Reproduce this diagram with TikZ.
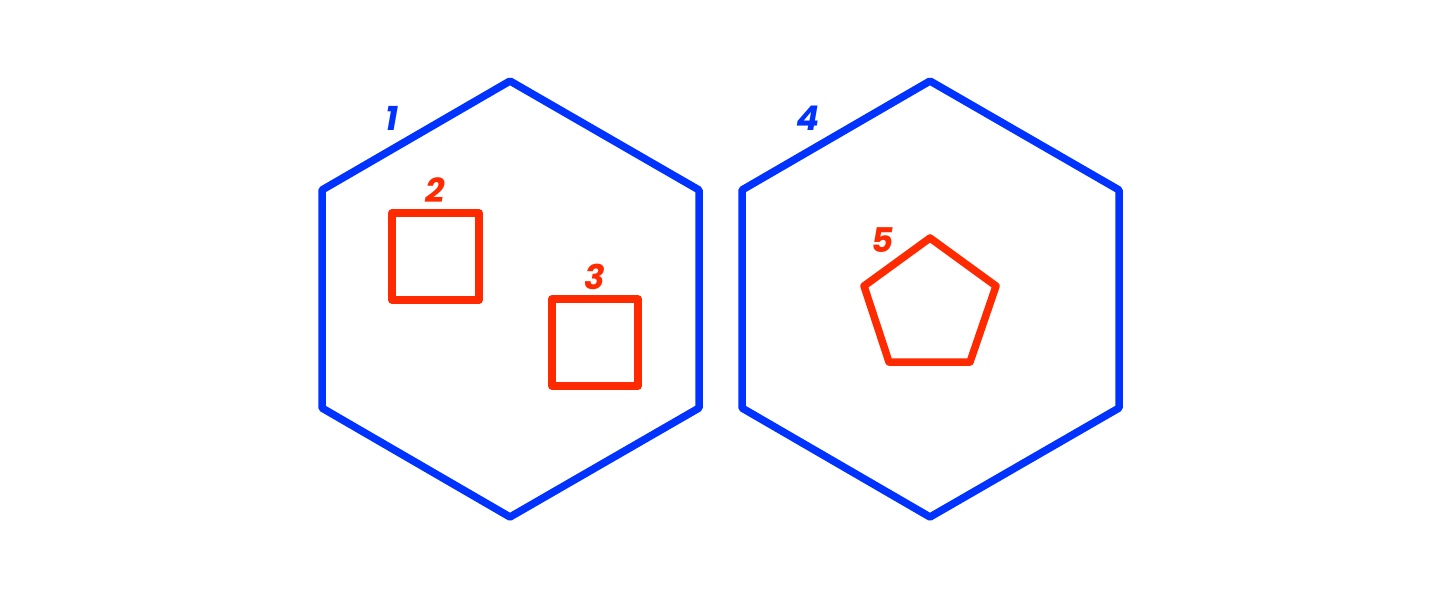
\documentclass[tikz,border=0pt]{standalone}
\usepackage{fontspec}
\setmainfont{Poppins}
\definecolor{hexblue}{HTML}{0033FF}
\definecolor{shred}{HTML}{FF2A00}
\begin{document}
\begin{tikzpicture}[x=1pt,y=-1pt,
  hexa/.style={draw=hexblue,line width=7.5pt,line join=round},
  redshape/.style={draw=shred,line width=7.5pt,line join=round},
  lbl/.style={font=\fontsize{34}{34}\selectfont\bfseries\itshape,inner sep=0pt},
  bluelbl/.style={lbl,text=hexblue},
  redlbl/.style={lbl,text=shred}]
\useasboundingbox (0,0) rectangle (1440,600);
\foreach \n/\cx in {A/510,B/930}{
  \draw[hexa] (\cx,81) -- (\cx+189,190) -- (\cx+189,408) -- (\cx,517) -- (\cx-188,408) -- (\cx-188,190) -- cycle;
}
\draw[redshape] (392,213) rectangle (479,300);
\draw[redshape] (552,299) rectangle (638,386);
\draw[redshape] (930,238) -- (996,286) -- (970,362) -- (889,362) -- (864,286) -- cycle;
\node[bluelbl] (l1) at (392,118) {1};
\node[redlbl] (l2) at (435,190) {2};
\node[redlbl] (l3) at (595,277) {3};
\node[bluelbl] (l4) at (808,118) {4};
\node[redlbl] (l5) at (883,240) {5};
\end{tikzpicture}
\end{document}
